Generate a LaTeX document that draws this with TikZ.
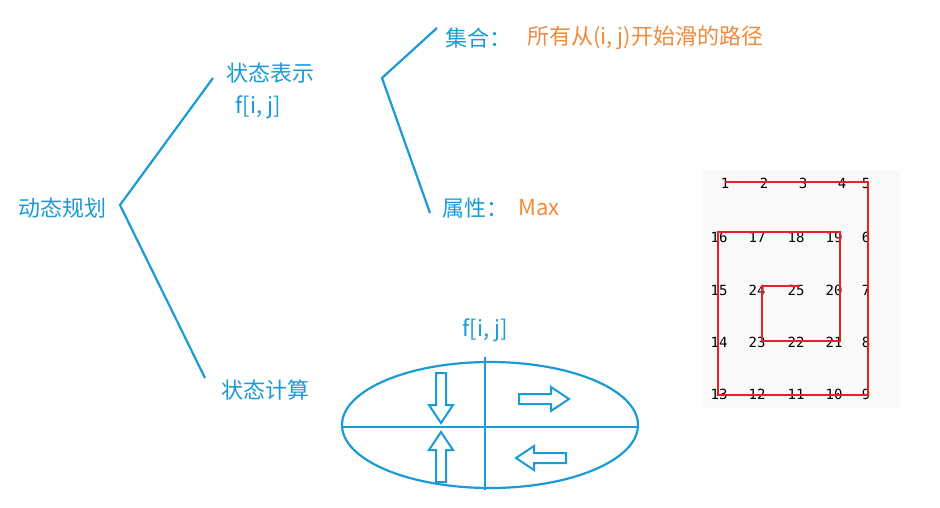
\documentclass[tikz,border=0pt]{standalone}
\usepackage{fontspec}
\setmainfont{Noto Sans CJK SC}
\newfontfamily\monof{DejaVu Sans Mono}
\definecolor{bl}{HTML}{1A9AD6}
\definecolor{og}{HTML}{F08A3C}
\definecolor{rd}{HTML}{E8202A}
\begin{document}
\begin{tikzpicture}[x=1pt,y=-1pt,
  lbl/.style={text=bl,font=\fontsize{22}{24}\selectfont,inner sep=0pt},
  olbl/.style={text=og,font=\fontsize{22}{24}\selectfont,inner sep=0pt},
  br/.style={draw=bl,line width=2.2pt},
  num/.style={font=\monof\fontsize{14}{14}\selectfont,inner sep=0pt},
  barrow/.style={draw=bl,line width=2pt}]
\useasboundingbox (0,0) rectangle (940,507);
\node[lbl] (dp) at (62,208) {动态规划};
\node[lbl] (rep) at (270,73) {状态表示};
\node[lbl] (fij) at (258,107) {f[i, j]};
\node[lbl] (calc) at (265,390) {状态计算};
\node[lbl,anchor=west] (set) at (445,38) {集合：};
\node[olbl,anchor=west] (setv) at (527,38) {所有从(i, j)开始滑的路径};
\node[lbl,anchor=west] (attr) at (442,208) {属性：};
\node[olbl,anchor=west] (attrv) at (518,208) {Max};
\node[lbl] (f2) at (485,330) {f[i, j]};
\coordinate (a) at (120,205);
\coordinate (b) at (382,78);
\draw[br] (213,78) -- (a) -- (205,378);
\draw[br] (437,28) -- (b) -- (430,213);
% ellipse
\draw[br] (490,425) ellipse [x radius=148, y radius=63];
\draw[br] (485,357) -- (485,490);
\draw[br] (342,427) -- (638,427);
\newcommand\barr[3]{\draw[barrow,shift={(#1,#2)},rotate=#3]
  (-24,-5) -- (8,-5) -- (8,-12) -- (26,0) -- (8,12) -- (8,5) -- (-24,5) -- cycle;}
\barr{441}{397}{-90}
\barr{543}{399}{0}
\barr{441}{458}{90}
\barr{542}{458}{180}
% grid
\fill[gray!5] (702,170) rectangle (900,408);
\foreach \t/\x/\y in {1/725/183,2/764/183,3/803/183,4/842/183,5/866/183,
 16/719/237,17/757/237,18/796/237,19/834/237,6/866/237,
 15/719/290,24/757/290,25/796/290,20/834/290,7/866/290,
 14/719/342,23/757/342,22/796/342,21/834/342,8/866/342,
 13/719/394,12/757/394,11/796/394,10/834/394,9/866/394}
  \node[num] at (\x,\y) {\t};
\draw[rd,line width=2pt] (725,182) -- (868,182) -- (868,395) -- (718,395) -- (718,232) -- (840,232) -- (840,341) -- (762,341) -- (762,286) -- (800,286);
\end{tikzpicture}
\end{document}
